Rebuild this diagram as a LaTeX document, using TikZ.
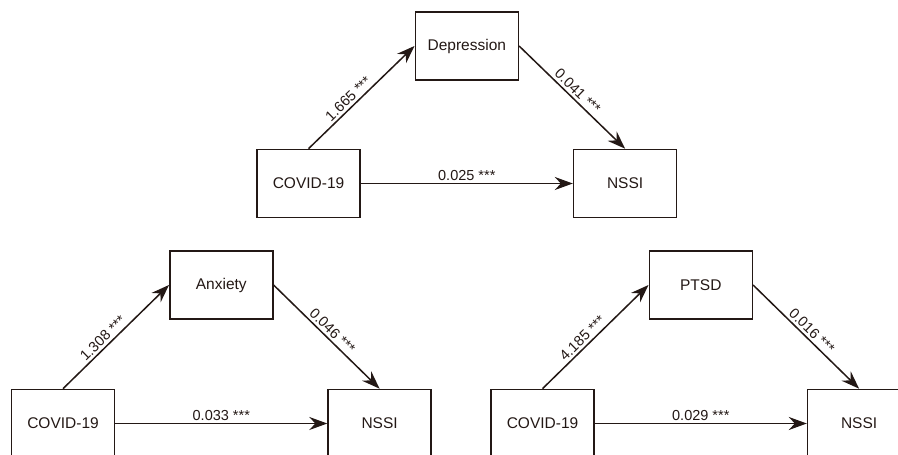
\documentclass[tikz,border=0pt]{standalone}
\usepackage{fontspec}
\setmainfont{Liberation Sans}
\usetikzlibrary{arrows.meta,positioning,calc}

\definecolor{inkdark}{RGB}{35,24,21}

\tikzset{
    varbox/.style={rectangle, draw=inkdark, line width=1.6pt, inner sep=0pt,
        minimum width=103pt, minimum height=68pt, text=inkdark,
        font=\fontsize{15.5}{18}\selectfont},
    path/.style={draw=inkdark, line width=1.5pt,
        -{Stealth[length=18pt, width=13pt, inset=6pt]}},
    coef/.style={text=inkdark, font=\fontsize{14.5}{17}\selectfont, inner sep=2.5pt}
}

\begin{document}
\begin{tikzpicture}[x=1pt, y=1pt, node distance=212pt]
    \useasboundingbox (0,0) rectangle (898,455);
    \clip (0,0) rectangle (898,455);

    % top: depression
    \node (cov1) [varbox] at (308.5,271.5) {COVID-19};
    \node (nssi1) [varbox, right=of cov1] {NSSI};
    \node (dep) [varbox] at ($(cov1)!0.5!(nssi1)+(0,137.5)$) {Depression};

    \draw [path] (cov1.north) -- node[coef, sloped, above, pos=0.43] {1.665 ***} (dep.west);
    \draw [path] (dep.east) -- node[coef, sloped, above] {0.041 ***} (nssi1.north);
    \draw [path] (cov1.east) -- node[coef, above] {0.025 ***} (nssi1.west);

    % bottom left: anxiety
    \node (cov2) [varbox] at (63,31.5) {COVID-19};
    \node (nssi2) [varbox, right=of cov2] {NSSI};
    \node (anx) [varbox] at ($(cov2)!0.5!(nssi2)+(0,138.5)$) {Anxiety};

    \draw [path] (cov2.north) -- node[coef, sloped, above, pos=0.43] {1.308 ***} (anx.west);
    \draw [path] (anx.east) -- node[coef, sloped, above] {0.046 ***} (nssi2.north);
    \draw [path] (cov2.east) -- node[coef, above] {0.033 ***} (nssi2.west);

    % bottom right: PTSD
    \node (cov3) [varbox] at (542.5,31.5) {COVID-19};
    \node (nssi3) [varbox, right=of cov3] {NSSI};
    \node (ptsd) [varbox] at ($(cov3)!0.5!(nssi3)+(0,138.5)$) {PTSD};

    \draw [path] (cov3.north) -- node[coef, sloped, above, pos=0.43] {4.185 ***} (ptsd.west);
    \draw [path] (ptsd.east) -- node[coef, sloped, above] {0.016 ***} (nssi3.north);
    \draw [path] (cov3.east) -- node[coef, above] {0.029 ***} (nssi3.west);
\end{tikzpicture}
\end{document}
